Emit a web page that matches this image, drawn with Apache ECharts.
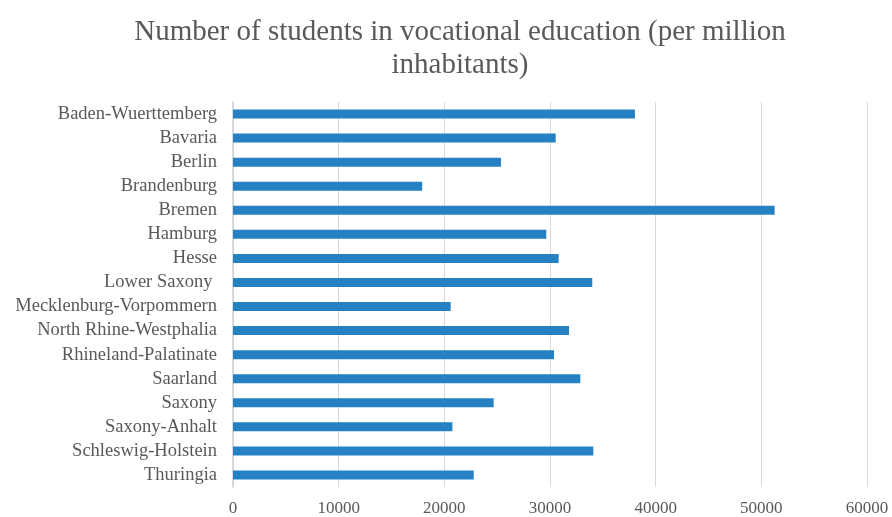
<!DOCTYPE html>
<html>
<head>
<meta charset="utf-8">
<script src="https://cdn.jsdelivr.net/npm/echarts@6/dist/echarts.min.js"></script>
<style>
  html, body { margin: 0; padding: 0; background: #fff; }
  #chart { width: 892px; height: 517px; }
</style>
</head>
<body>
<div id="chart"></div>
<script>
  // Bundesländer, top to bottom
  var states = [
    'Baden-Wuerttemberg', 'Bavaria', 'Berlin', 'Brandenburg', 'Bremen',
    'Hamburg', 'Hesse', 'Lower Saxony ', 'Mecklenburg-Vorpommern',
    'North Rhine-Westphalia', 'Rhineland-Palatinate', 'Saarland', 'Saxony',
    'Saxony-Anhalt', 'Schleswig-Holstein', 'Thuringia'
  ]
  // students per million inhabitants
  var students = [
    38040, 30540, 25360, 17900, 51260,
    29650, 30820, 34000, 20600,
    31800, 30380, 32870, 24670,
    20760, 34100, 22780
  ]
  var xTicks = [0, 10000, 20000, 30000, 40000, 50000, 60000]

  var font = '"Liberation Serif", "Times New Roman", serif'
  var chart = echarts.init(document.getElementById('chart'))
  var option = {
    animation: false,
    title: {
      text: 'Number of students in vocational education (per million\ninhabitants)',
      left: 455,
      top: 11,
      textAlign: 'center',
      textStyle: {
        fontFamily: font,
        fontWeight: 'normal',
        fontSize: 29,
        lineHeight: 33,
        color: '#595959'
      }
    },
    grid: {
      left: 233,
      right: 25,
      top: 102,
      bottom: 29
    },
    xAxis: {
      type: 'value',
      min: xTicks[0],
      max: xTicks[xTicks.length - 1],
      interval: xTicks[1] - xTicks[0],
      axisLine: { show: false },
      axisTick: { show: false },
      axisLabel: {
        fontFamily: font,
        fontSize: 17,
        color: '#595959',
        margin: 13,
        formatter: function (v) { return String(v) }
      },
      splitLine: {
        lineStyle: { color: '#d9d9d9', width: 1 }
      }
    },
    yAxis: {
      type: 'category',
      data: states,
      inverse: true,
      axisTick: { show: false },
      axisLine: {
        lineStyle: { color: '#d0d0d0', width: 1.5 }
      },
      axisLabel: {
        interval: 0,
        fontFamily: font,
        fontSize: 18.5,
        color: '#595959',
        margin: 16
      }
    },
    series: [
      {
        type: 'bar',
        data: students,
        barWidth: 9,
        itemStyle: { color: '#2681c2' }
      }
    ]
  }
  chart.setOption(option)
  window.addEventListener('resize', function () {
    chart.resize()
  })
</script>
</body>
</html>
